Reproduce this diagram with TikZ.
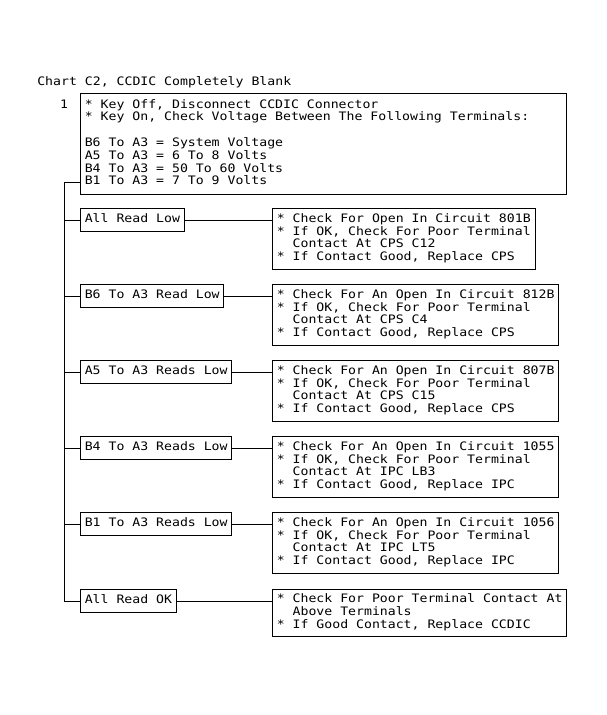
\documentclass[tikz,border=0pt]{standalone}
\usepackage{fontspec}
\newfontfamily\chartfont[FakeStretch=1.13]{DejaVu Sans Mono}

\begin{document}
\begin{tikzpicture}[
		x=0.75pt, y=-0.75pt,
		every node/.style={font=\chartfont\fontsize{8.75pt}{9.6pt}\selectfont, inner sep=0pt},
		chartbox/.style={draw, line width=0.75pt, inner xsep=3.2pt, align=left, anchor=north west,
			execute at begin node=\strut, execute at end node=\strut},
		reading/.style={chartbox, minimum height=17.25pt},
		check/.style={chartbox, minimum height=45.75pt},
		wire/.style={line width=0.75pt}
		]
		\useasboundingbox (0,0) rectangle (607,715);
		
		\node[anchor=base west] (title) at (37,85) {Chart C2, CCDIC Completely Blank};
		\node[anchor=base] (stepno) at (64,108) {1};
		\node[chartbox, minimum height=75.75pt] (test1) at (80,93)
		{* Key Off, Disconnect CCDIC Connector\\{}* Key On, Check Voltage Between The Following Terminals:\rule{25pt}{0pt}\\[9.6pt]
			B6 To A3 = System Voltage\\A5 To A3 = 6 To 8 Volts\\B4 To A3 = 50 To 60 Volts\\B1 To A3 = 7 To 9 Volts};
		
		% readings
		\node[reading] (allLow) at (80,208) {All Read Low};
		\node[reading] (b6Low) at (80,284) {B6 To A3 Read Low};
		\node[reading] (a5Low) at (80,360) {A5 To A3 Reads Low};
		\node[reading] (b4Low) at (80,436) {B4 To A3 Reads Low};
		\node[reading] (b1Low) at (80,512) {B1 To A3 Reads Low};
		\node[reading] (allOK) at (80,589) {All Read OK};
		
		% what to do
		\node[check] (fix1) at (272,208) {* Check For Open In Circuit 801B\\{}* If OK, Check For Poor Terminal\\\phantom{**}Contact At CPS C12\\{}* If Contact Good, Replace CPS};
		\node[check] (fix2) at (272,284) {* Check For An Open In Circuit 812B\\{}* If OK, Check For Poor Terminal\\\phantom{**}Contact At CPS C4\\{}* If Contact Good, Replace CPS};
		\node[check] (fix3) at (272,360) {* Check For An Open In Circuit 807B\\{}* If OK, Check For Poor Terminal\\\phantom{**}Contact At CPS C15\\{}* If Contact Good, Replace CPS};
		\node[check] (fix4) at (272,436) {* Check For An Open In Circuit 1055\\{}* If OK, Check For Poor Terminal\\\phantom{**}Contact At IPC LB3\\{}* If Contact Good, Replace IPC};
		\node[check] (fix5) at (272,512) {* Check For An Open In Circuit 1056\\{}* If OK, Check For Poor Terminal\\\phantom{**}Contact At IPC LT5\\{}* If Contact Good, Replace IPC};
		\node[chartbox, minimum height=35.25pt] (fix6) at (272,589) {* Check For Poor Terminal Contact At\\\phantom{**}Above Terminals\\{}* If Good Contact, Replace CCDIC};
		
		\coordinate (tap) at (64,182);
		\draw[wire] (tap -| test1.west) -- (tap) |- (allOK.west);
		\foreach \r in {allLow,b6Low,a5Low,b4Low,b1Low}
		\draw[wire] (tap |- \r.west) -- (\r.west);
		\foreach \r/\f in {allLow/fix1,b6Low/fix2,a5Low/fix3,b4Low/fix4,b1Low/fix5,allOK/fix6}
		\draw[wire] (\r.east) -- (\r.east -| \f.west);
	\end{tikzpicture}
\end{document}
